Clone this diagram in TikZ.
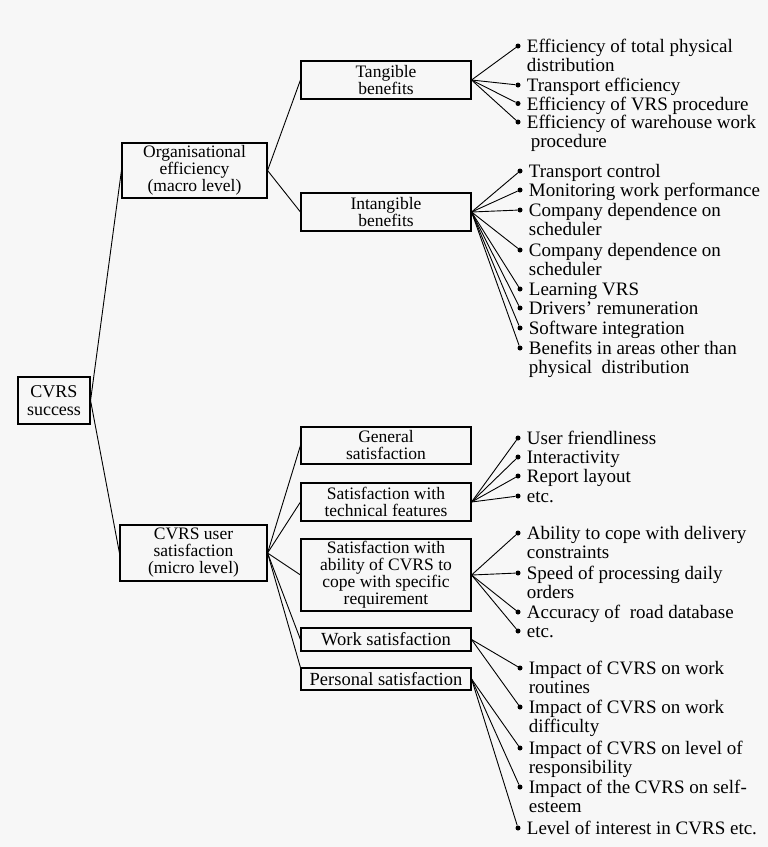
\documentclass[tikz,border=0pt]{standalone}
\usepackage{fontspec}
\setmainfont{Liberation Serif}
\usepackage{tikz}

\begin{document}
\begin{tikzpicture}[
    x=1pt, y=-1pt,
    box/.style={draw, line width=1.1pt, align=center, inner sep=1pt, minimum width=170pt, font=\fontsize{17.5}{17}\selectfont},
    dot/.style={circle, fill, inner sep=0pt, minimum size=5pt},
    item/.style={anchor=north west, xshift=6pt, yshift=7pt, align=left, inner sep=0pt,
        font=\fontsize{19}{19}\selectfont, execute at begin node={\rule{0pt}{13pt}}},
    conn/.style={line width=0.9pt}
]
    \fill[black!3] (0,0) rectangle (768,847);
    \useasboundingbox (0,0) rectangle (768,847);

    % root and the two levels
    \node[box, minimum width=72pt, minimum height=47pt, font=\fontsize{18}{18}\selectfont] (succ) at (54,400.5) {CVRS\\success};
    \node[box, minimum width=145pt, minimum height=55pt] (org) at (194.5,170.5) {Organisational\\efficiency\\(macro level)};
    \node[box, minimum width=147pt, minimum height=56pt] (user) at (193.5,553) {CVRS user\\satisfaction\\(micro level)};

    \draw[conn] (succ.east) -- (org.west);
    \draw[conn] (succ.east) -- (user.west);

    % organisational efficiency
    \node[box, minimum height=38pt] (tang) at (386,80) {Tangible\\benefits};
    \node[box, minimum height=38pt] (intang) at (386,212) {Intangible\\benefits};
    \draw[conn] (org.east) -- (tang.west);
    \draw[conn] (org.east) -- (intang.west);

    \node[dot] (t1) at (518,46) {};
    \node[item] at (t1.east) {Efficiency of total physical\\distribution};
    \node[dot] (t2) at (518,85) {};
    \node[item] at (t2.east) {Transport efficiency};
    \node[dot] (t3) at (518,103.5) {};
    \node[item] at (t3.east) {Efficiency of VRS procedure};
    \node[dot] (t4) at (518,122) {};
    \node[item] at (t4.east) {Efficiency of warehouse work\\\hspace{4pt}procedure};
    \foreach \i in {1,...,4}
        \draw[conn] (tang.east) -- (t\i);

    \node[dot] (i1) at (520,171) {};
    \node[item] at (i1.east) {Transport control};
    \node[dot] (i2) at (520,190) {};
    \node[item] at (i2.east) {Monitoring work performance};
    \node[dot] (i3) at (520,210) {};
    \node[item] at (i3.east) {Company dependence on\\scheduler};
    \node[dot] (i4) at (520,250) {};
    \node[item] at (i4.east) {Company dependence on\\scheduler};
    \node[dot] (i5) at (520,289) {};
    \node[item] at (i5.east) {Learning VRS};
    \node[dot] (i6) at (520,308) {};
    \node[item] at (i6.east) {Drivers' remuneration};
    \node[dot] (i7) at (520,328) {};
    \node[item] at (i7.east) {Software integration};
    \node[dot] (i8) at (520,348) {};
    \node[item] at (i8.east) {Benefits in areas other than\\physical\ \ distribution};
    \foreach \i in {1,...,8}
        \draw[conn] (intang.east) -- (i\i);

    % user satisfaction
    \node[box, minimum height=37pt] (gen) at (386,445.5) {General\\satisfaction};
    \node[box, minimum height=38pt] (tech) at (386,502) {Satisfaction with\\technical features};
    \node[box, minimum height=72pt] (abil) at (386,575) {Satisfaction with\\ability of CVRS to\\cope with specific\\requirement};
    \node[box, minimum height=23pt, font=\fontsize{18.5}{17}\selectfont] (work) at (386,639.5) {Work satisfaction};
    \node[box, minimum height=22pt, font=\fontsize{18.5}{17}\selectfont] (pers) at (386,679) {Personal satisfaction};
    \draw[conn] (user.east) -- (gen.west);
    \draw[conn] (user.east) -- (tech.west);
    \draw[conn] (user.east) -- (abil.west);
    \draw[conn] (user.east) -- (work.west);
    \draw[conn] (user.east) -- (pers.north west);

    \node[dot] (f1) at (518,438) {};
    \node[item] at (f1.east) {User friendliness};
    \node[dot] (f2) at (518,457) {};
    \node[item] at (f2.east) {Interactivity};
    \node[dot] (f3) at (518,476) {};
    \node[item] at (f3.east) {Report layout};
    \node[dot] (f4) at (518,496) {};
    \node[item] at (f4.east) {etc.};
    \foreach \i in {1,...,4}
        \draw[conn] (tech.east) -- (f\i);

    \node[dot] (a1) at (518,533) {};
    \node[item] at (a1.east) {Ability to cope with delivery\\constraints};
    \node[dot] (a2) at (518,573) {};
    \node[item] at (a2.east) {Speed of processing daily\\orders};
    \node[dot] (a3) at (518,612) {};
    \node[item] at (a3.east) {Accuracy of\ \ road database};
    \node[dot] (a4) at (518,631) {};
    \node[item] at (a4.east) {etc.};
    \foreach \i in {1,...,4}
        \draw[conn] (abil.east) -- (a\i);

    \node[dot] (w1) at (520,668) {};
    \node[item] at (w1.east) {Impact of CVRS on work\\routines};
    \node[dot] (w2) at (520,707) {};
    \node[item] at (w2.east) {Impact of CVRS on work\\difficulty};
    \draw[conn] (work.east) -- (w1);
    \draw[conn] (work.east) -- (w2);

    \node[dot] (p1) at (520,748) {};
    \node[item] at (p1.east) {Impact of CVRS on level of\\responsibility};
    \node[dot] (p2) at (520,787) {};
    \node[item] at (p2.east) {Impact of the CVRS on self-\\esteem};
    \node[dot] (p3) at (518,828) {};
    \node[item] at (p3.east) {Level of interest in CVRS etc.};
    \foreach \i in {1,...,3}
        \draw[conn] (pers.east) -- (p\i);
\end{tikzpicture}
\end{document}
